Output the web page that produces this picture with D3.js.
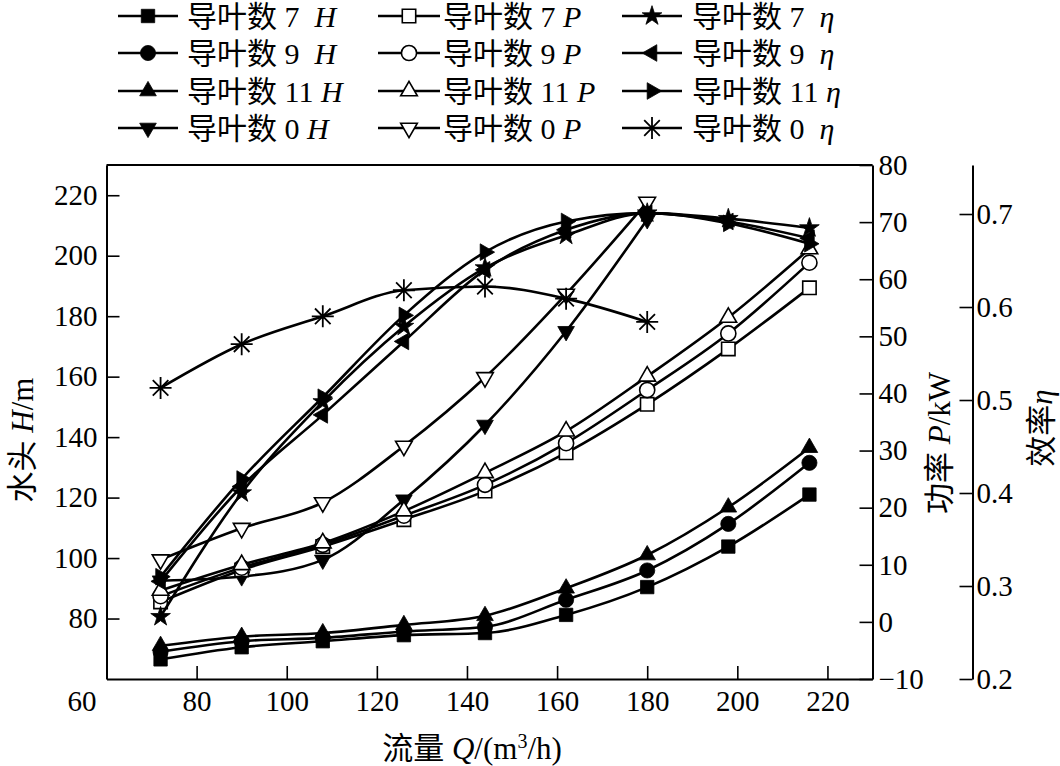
<!DOCTYPE html>
<html>
<head>
<meta charset="utf-8">
<script src="https://cdn.jsdelivr.net/npm/d3@7"></script>
<style>
  body { margin: 0; background: #fff; }
  svg { display: block; font-family: "Liberation Serif", "Times New Roman", "Noto Sans CJK SC", serif; }
</style>
</head>
<body>
<svg id="chart" width="1060" height="766"></svg>
<script>
// flow rate Q (m3/h)
const flow = [72, 90, 108, 126, 144, 162, 180, 198, 216];
const flow0 = [72, 90, 108, 126, 144, 162, 180];

// head H (m), left axis
const head7 = [66.5, 70.5, 72.5, 74.5, 75.2, 81.2, 90.4, 103.8, 121];
const head9 = [69, 72.5, 73.6, 75.7, 77.3, 86.2, 95.9, 111.3, 131.5];
const head11 = [71, 74, 75.2, 77.9, 80.9, 90, 101, 116.8, 136.5];
const head0 = [92.5, 93.9, 99.4, 119.3, 144, 175, 212];

// power P (kW), right axis
const power7 = [3.5, 9.1, 13.2, 17.9, 22.9, 29.6, 38.1, 47.8, 58.5];
const power9 = [4.5, 9.5, 13.5, 18.6, 24, 31.3, 40.6, 50.5, 62.9];
const power11 = [5.5, 10, 13.8, 19.4, 26.1, 33.4, 43, 53.3, 65.3];
const power0 = [10.9, 16.4, 20.9, 30.8, 42.8, 57.4, 73.5];

// efficiency eta, outer right axis
const eff7 = [0.267, 0.400, 0.498, 0.579, 0.642, 0.677, 0.701, 0.695, 0.685];
const eff9 = [0.305, 0.407, 0.484, 0.563, 0.640, 0.683, 0.701, 0.692, 0.674];
const eff11 = [0.310, 0.415, 0.503, 0.591, 0.659, 0.692, 0.701, 0.690, 0.668];
const eff0 = [0.513, 0.560, 0.590, 0.618, 0.622, 0.609, 0.584];

// tick labels
const xTicks = [60, 80, 100, 120, 140, 160, 180, 200, 220];
const hTicks = [80, 100, 120, 140, 160, 180, 200, 220];
const pTicks = [-10, 0, 10, 20, 30, 40, 50, 60, 70, 80];
const eTicks = [0.2, 0.3, 0.4, 0.5, 0.6, 0.7];

const svg = d3.select("#chart");

// plot box
const boxLeft = 106.5, boxRight = 872.5, boxTop = 165, boxBottom = 679;
const etaAxisX = 972.5;

const x = d3.scaleLinear().domain([60, 230]).range([boxLeft, boxRight]);
const yH = d3.scaleLinear().domain([60, 230]).range([boxBottom, boxTop]);
const yP = d3.scaleLinear().domain([-10, 80]).range([boxBottom, boxTop]);
const yE = d3.scaleLinear().domain([0.2, 0.7527]).range([boxBottom, boxTop]);

const tickFont = 29;

function styleAxis(g) {
    g.attr("font-family", null).attr("font-size", null);
    g.selectAll("text").style("font-size", tickFont + "px").attr("fill", "#000");
    g.selectAll("line").attr("stroke", "#000").attr("stroke-width", 1.6);
    g.select(".domain").attr("stroke", "#000").attr("stroke-width", 2);
}

// bottom axis
const gx = svg.append("g")
    .attr("transform", `translate(0,${boxBottom})`)
    .call(d3.axisBottom(x).tickValues(xTicks).tickSize(-13).tickSizeOuter(0).tickPadding(11))
    .call(styleAxis);
gx.selectAll(".tick").filter(d => d === 60).select("line").remove();
gx.selectAll(".tick").filter(d => d === 60).select("text").attr("dx", -25);

// left axis
svg.append("g")
    .attr("transform", `translate(${boxLeft},0)`)
    .call(d3.axisLeft(yH).tickValues(hTicks).tickSize(-13).tickSizeOuter(0).tickPadding(9))
    .call(styleAxis);

// power axis
svg.append("g")
    .attr("transform", `translate(${boxRight},0)`)
    .call(d3.axisRight(yP).tickValues(pTicks).tickSize(-13).tickSizeOuter(0).tickPadding(6))
    .call(styleAxis);

// efficiency axis
svg.append("g")
    .attr("transform", `translate(${etaAxisX},0)`)
    .call(d3.axisRight(yE).tickValues(eTicks).tickFormat(d3.format(".1f")).tickSize(-13).tickSizeOuter(0).tickPadding(4))
    .call(styleAxis);

// top border
svg.append("line")
    .attr("x1", boxLeft).attr("x2", boxRight).attr("y1", boxTop).attr("y2", boxTop)
    .attr("stroke", "#000").attr("stroke-width", 2);

// markers
function markerPath(type) {
    switch (type) {
        case "square": return d3.symbol(d3.symbolSquare, 180)();
        case "circle": return d3.symbol(d3.symbolCircle, 180)();
        case "star": return d3.symbol(d3.symbolStar, 120)();
        case "asterisk": return "M0,-11V11M-11,0H11M-7.8,-7.8L7.8,7.8M-7.8,7.8L7.8,-7.8";
        default: return d3.symbol(d3.symbolTriangle, 120)();
    }
}
const rotation = { triUp: 0, triDown: 180, triLeft: -90, triRight: 90 };

function drawMarker(g, type, filled) {
    const p = g.append("path")
        .attr("d", markerPath(type))
        .attr("transform", rotation[type] ? `rotate(${rotation[type]})` : null);
    if (type === "asterisk") {
        p.attr("fill", "none").attr("stroke", "#000").attr("stroke-width", 1.8);
    } else if (filled) {
        p.attr("fill", "#000").attr("stroke", "#000").attr("stroke-width", 0.8);
    } else {
        p.attr("fill", "#fff").attr("stroke", "#000").attr("stroke-width", 1.6);
    }
}

const series = [
    { q: flow, v: head7, y: yH, sym: "square", filled: true },
    { q: flow, v: head9, y: yH, sym: "circle", filled: true },
    { q: flow, v: head11, y: yH, sym: "triUp", filled: true },
    { q: flow0, v: head0, y: yH, sym: "triDown", filled: true },
    { q: flow, v: power7, y: yP, sym: "square", filled: false },
    { q: flow, v: power9, y: yP, sym: "circle", filled: false },
    { q: flow, v: power11, y: yP, sym: "triUp", filled: false },
    { q: flow0, v: power0, y: yP, sym: "triDown", filled: false },
    { q: flow, v: eff7, y: yE, sym: "star", filled: true },
    { q: flow, v: eff9, y: yE, sym: "triLeft", filled: true },
    { q: flow, v: eff11, y: yE, sym: "triRight", filled: true },
    { q: flow0, v: eff0, y: yE, sym: "asterisk", filled: true }
];

const plot = svg.append("g");
series.forEach(s => {
    const pts = s.q.map((q, i) => [q, s.v[i]]);
    const line = d3.line()
        .x(d => x(d[0]))
        .y(d => s.y(d[1]))
        .curve(d3.curveMonotoneX);
    plot.append("path")
        .attr("d", line(pts))
        .attr("fill", "none")
        .attr("stroke", "#000")
        .attr("stroke-width", 2.6);
    pts.forEach(d => {
        const g = plot.append("g").attr("transform", `translate(${x(d[0])},${s.y(d[1])})`);
        drawMarker(g, s.sym, s.filled);
    });
});

// axis titles
const titleFont = 31;
const xt = svg.append("text")
    .attr("x", 472).attr("y", 759)
    .attr("text-anchor", "middle")
    .style("font-size", titleFont + "px");
xt.append("tspan").text("流量 ");
xt.append("tspan").attr("font-style", "italic").text("Q");
xt.append("tspan").text("/(m");
xt.append("tspan").attr("dy", -11).style("font-size", "20px").text("3");
xt.append("tspan").attr("dy", 11).text("/h)");

function vTitle(cx, cy, parts) {
    const t = svg.append("text")
        .attr("transform", `translate(${cx},${cy}) rotate(-90)`)
        .attr("text-anchor", "middle")
        .attr("dy", "0.35em")
        .style("font-size", titleFont + "px");
    parts.forEach(p => t.append("tspan").attr("font-style", p[1] ? "italic" : null).text(p[0]));
}
vTitle(22, 440, [["水头 ", false], ["H", true], ["/m", false]]);
vTitle(939, 443, [["功率 ", false], ["P", true], ["/kW", false]]);
vTitle(1041, 428, [["效率", false], ["η", true]]);

// legend
const nb = "\u00a0";
const legendRows = [16, 53, 91, 128];
const legendCols = [
    { x1: 118, x2: 178, tx: 187 },
    { x1: 378, x2: 440, tx: 443 },
    { x1: 622, x2: 682, tx: 692 }
];
const legendText = [
    ["导叶数" + nb + "7" + nb + nb, "H"], ["导叶数" + nb + "9" + nb + nb, "H"], ["导叶数" + nb + "11" + nb, "H"], ["导叶数" + nb + "0" + nb, "H"],
    ["导叶数" + nb + "7" + nb, "P"], ["导叶数" + nb + "9" + nb, "P"], ["导叶数" + nb + "11" + nb, "P"], ["导叶数" + nb + "0" + nb, "P"],
    ["导叶数" + nb + "7" + nb + nb, "η"], ["导叶数" + nb + "9" + nb + nb, "η"], ["导叶数" + nb + "11" + nb, "η"], ["导叶数" + nb + "0" + nb + nb, "η"]
];
const legend = svg.append("g");
series.forEach((s, i) => {
    const col = legendCols[Math.floor(i / 4)];
    const y = legendRows[i % 4];
    legend.append("line")
        .attr("x1", col.x1).attr("x2", col.x2).attr("y1", y).attr("y2", y)
        .attr("stroke", "#000").attr("stroke-width", 2.6);
    const g = legend.append("g").attr("transform", `translate(${(col.x1 + col.x2) / 2},${y})`);
    drawMarker(g, s.sym, s.filled);
    const t = legend.append("text")
        .attr("x", col.tx).attr("y", y).attr("dy", "0.35em")
        .style("font-size", "30px");
    t.append("tspan").text(legendText[i][0]);
    t.append("tspan").attr("font-style", "italic").text(legendText[i][1]);
});
</script>
</body>
</html>
